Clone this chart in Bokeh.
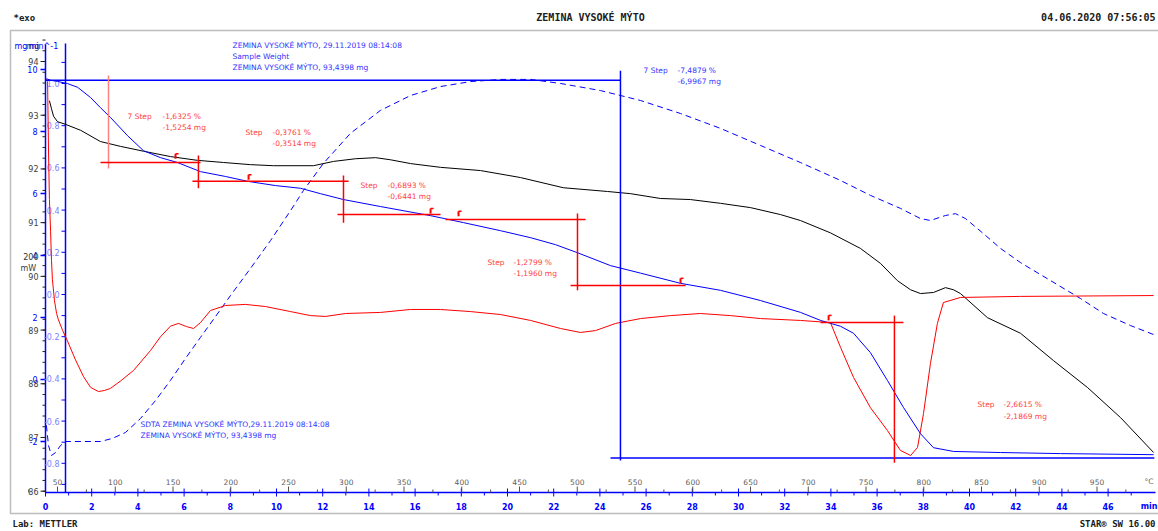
from bokeh.plotting import figure
from bokeh.models import Range1d, Label, PolyAnnotation
from bokeh.embed import file_html
from bokeh.resources import INLINE
from bokeh.core.properties import value

# ---------------- data ----------------
# black curve (mg) vs time (min)
black_t = [0.17, 0.26, 0.35, 0.52, 0.87, 1.52, 2.38, 3.25, 4.24, 5.41, 6.58, 7.71, 8.87, 9.87, 11.60,
           12.47, 13.42, 14.29, 14.94, 15.80, 17.10, 18.83, 20.56, 22.42, 24.33, 25.32, 26.62, 27.92,
           29.22, 30.52, 31.82, 32.68, 33.98, 35.28, 36.15, 36.88, 37.45, 37.88, 38.44, 38.96, 39.31,
           39.61, 40.78, 42.21, 43.64, 45.11, 46.54, 47.97]
black_mg = [93.27, 93.12, 92.98, 92.88, 92.83, 92.72, 92.51, 92.42, 92.33, 92.23, 92.16, 92.12, 92.08,
            92.06, 92.06, 92.14, 92.19, 92.21, 92.17, 92.10, 92.03, 91.97, 91.84, 91.65, 91.58, 91.54,
            91.45, 91.43, 91.36, 91.28, 91.15, 91.04, 90.81, 90.52, 90.24, 89.92, 89.75, 89.68, 89.70,
            89.79, 89.75, 89.68, 89.23, 88.94, 88.43, 87.93, 87.37, 86.72]

# blue solid curve: sample weight (mg)
blue_t = [0.04, 0.22, 0.52, 0.95, 1.39, 1.95, 2.38, 2.81, 3.55, 4.24, 4.98, 5.71, 6.71, 7.79, 8.74,
          9.96, 11.04, 11.90, 12.90, 14.50, 16.67, 18.10, 19.70, 21.00, 22.08, 23.03, 24.46, 25.76,
          27.49, 29.22, 30.95, 32.68, 33.55, 34.42, 34.98, 35.71, 36.45, 37.14, 37.88, 38.44, 39.31,
          41.34, 43.94, 47.97]
blue_mg = [93.68, 93.65, 93.63, 93.59, 93.52, 93.33, 93.14, 92.96, 92.62, 92.34, 92.21, 92.12, 91.95,
           91.86, 91.77, 91.69, 91.64, 91.54, 91.43, 91.30, 91.13, 91.00, 90.85, 90.72, 90.59, 90.44,
           90.20, 90.06, 89.87, 89.74, 89.55, 89.33, 89.18, 89.07, 88.94, 88.58, 88.06, 87.56, 87.07,
           86.81, 86.74, 86.72, 86.70, 86.68]

# red curve: SDTA signal
dsc_t = [0.04, 0.09, 0.13, 0.17, 0.22, 0.26, 0.30, 0.39, 0.48, 0.56, 0.74, 0.95, 1.30, 1.65, 1.95,
         2.29, 2.55, 2.81, 3.25, 3.81, 4.55, 4.98, 5.41, 5.76, 6.10, 6.41, 6.71, 7.14, 7.79, 8.66,
         9.52, 10.61, 11.47, 12.12, 12.99, 14.50, 15.80, 17.10, 18.40, 19.70, 21.00, 22.29, 23.16,
         23.81, 24.68, 25.76, 27.06, 28.35, 29.65, 30.95, 32.68, 33.98, 34.42, 34.98, 35.71, 36.45,
         37.01, 37.45, 37.75, 38.01, 38.31, 38.61, 38.87, 39.61, 42.21, 47.97]
dsc_v = [1.02, 1.01, 0.68, 0.45, 0.30, 0.16, 0.07, -0.03, -0.09, -0.12, -0.17, -0.22, -0.31, -0.39,
         -0.44, -0.46, -0.455, -0.445, -0.41, -0.36, -0.265, -0.20, -0.15, -0.137, -0.152, -0.161,
         -0.133, -0.076, -0.052, -0.047, -0.057, -0.081, -0.100, -0.104, -0.090, -0.085, -0.071,
         -0.071, -0.081, -0.095, -0.123, -0.161, -0.180, -0.171, -0.137, -0.114, -0.100, -0.090,
         -0.100, -0.114, -0.123, -0.133, -0.251, -0.393, -0.536, -0.645, -0.739, -0.763, -0.725,
         -0.564, -0.327, -0.137, -0.038, -0.014, -0.009, -0.005]

# blue dashed curve (DTG)
dtg_t = [0.04, 0.13, 0.26, 0.43, 0.65, 0.87, 2.38, 2.90, 3.46, 4.11, 4.76, 5.41, 6.06, 6.71, 7.36,
         8.01, 8.87, 9.74, 10.61, 11.17, 12.03, 13.20, 14.50, 15.80, 17.10, 18.40, 19.70, 21.00,
         22.29, 24.03, 25.76, 27.49, 29.22, 30.95, 32.68, 34.42, 35.71, 37.01, 37.88, 38.31, 38.96,
         39.39, 39.83, 40.69, 41.34, 42.21, 43.51, 44.81, 45.80, 46.97, 47.97]
dtg_v = [-1.48, -2.13, -2.45, -2.36, -2.13, -2.0, -2.0, -1.90, -1.71, -1.26, -0.68, -0.03, 0.68, 1.36,
         2.03, 2.71, 3.58, 4.48, 5.45, 6.10, 6.97, 7.94, 8.68, 9.16, 9.45, 9.61, 9.68, 9.68, 9.55,
         9.32, 9.0, 8.58, 8.10, 7.55, 7.0, 6.42, 5.94, 5.52, 5.19, 5.13, 5.29, 5.35, 5.19, 4.65, 4.23,
         3.77, 3.19, 2.61, 2.13, 1.74, 1.45]

# tick labels
time_ticks = list(range(0, 48, 2))
temp_ticks = list(range(50, 1000, 50))
mg_ticks = list(range(86, 95))
dtg_ticks = [10, 8, 6, 4, 2, 0, -2]
dsc_ticks = [1.0, 0.8, 0.6, 0.4, 0.2, 0.0, -0.2, -0.4, -0.6, -0.8]

# step evaluations (red): horizontal limits (t0, t1, mg) and vertical limits (t, mg0, mg1)
step_h_t0 = [2.38, 6.36, 12.64, 17.32, 22.73, 33.55]
step_h_t1 = [6.71, 13.12, 17.10, 23.38, 27.71, 37.14]
step_h_mg = [92.12, 91.77, 91.15, 91.06, 89.83, 89.14]
step_v_t = [6.62, 12.90, 23.03, 36.75]
step_v_mg0 = [92.25, 91.88, 91.17, 89.27]
step_v_mg1 = [91.64, 91.00, 89.74, 86.53]
step_mark_t = [5.63, 8.79, 16.67, 17.88, 27.49, 33.90]
step_mark_mg = [92.19, 91.80, 91.17, 91.12, 89.87, 89.18]
step_pct = ["-1,6325 %", "-0,3761 %", "-0,6893 %", "-1,2799 %", "-2,6615 %"]
step_mass = ["-1,5254 mg", "-0,3514 mg", "-0,6441 mg", "-1,1960 mg", "-2,1869 mg"]
step_name = ["7 Step", "Step", "Step", "Step", "Step"]
# overall step (blue)
total_name, total_pct, total_mass = "7 Step", "-7,4879 %", "-6,9967 mg"
total_h_t0 = [0.0, 24.46]
total_h_t1 = [24.89, 48.0]
total_level = [93.65, 86.62]
total_v_t, total_v_mg = 24.89, [93.83, 86.57]

# ---------------- page calibration (pixels) ----------------
W, H = 1158, 531
X0, PX_MIN = 45.0, 23.1          # time 0 at x=45, px per minute
MG0_Y, PX_MG = 490.7, 53.71      # 86 mg at y=490.7, px per mg
DSC0_Y, PX_DSC = 294.0, 211.0    # 0 at y=294
DTG0_Y, PX_DTG = 379.0, 31.0     # 0 at y=379


def tx(X):
    return (X - X0) / PX_MIN


def my(Y):
    return 86 + (MG0_Y - Y) / PX_MG


BLUE = "#0000ff"
RED = "#ff0000"
FONT = "DejaVu Sans"
MONO = "DejaVu Sans Mono"

p = figure(width=W, height=H, x_range=Range1d(tx(0), tx(W)), y_range=Range1d(my(H), my(0)),
           output_backend="svg", toolbar_location=None, x_axis_location=None, y_axis_location=None,
           min_border=0, min_border_left=0, min_border_right=0, min_border_top=0, min_border_bottom=0)
p.extra_y_ranges = {"dsc": Range1d((DSC0_Y - H) / PX_DSC, DSC0_Y / PX_DSC),
                    "dtg": Range1d((DTG0_Y - H) / PX_DTG, DTG0_Y / PX_DTG)}
p.grid.visible = False
p.outline_line_color = None
p.background_fill_color = "white"
p.border_fill_color = "white"


def seg(x0, y0, x1, y1, color, width=1.0, rng="default"):
    p.segment(x0=x0, y0=y0, x1=x1, y1=y1, line_color=color, line_width=width, y_range_name=rng)


def txt(x, y, text, color, size="8px", align="left", bold=False, font=FONT, rng="default"):
    p.text(x=x, y=y, text=text, text_color=color, text_font_size=size, text_align=align,
           text_baseline="middle", text_font=value(font),
           text_font_style="bold" if bold else "normal", y_range_name=rng)


# outer frame
p.add_layout(PolyAnnotation(xs=[10, 1175, 1175, 10], ys=[H - 30, H - 30, H - 513, H - 513],
                            xs_units="screen", ys_units="screen", fill_alpha=0,
                            line_color="#202020", line_width=1.5))

# ---- time axis (bottom) ----
y_axis_line = my(492)
seg([0], [y_axis_line], [tx(1155)], [y_axis_line], BLUE, 1.5)
seg(time_ticks, [my(488)] * len(time_ticks), time_ticks, [my(496)] * len(time_ticks), BLUE, 1)
odd = list(range(1, 48, 2))
seg(odd, [my(492)] * len(odd), odd, [my(495)] * len(odd), BLUE, 1)
txt(time_ticks, [my(506)] * len(time_ticks), [str(t) for t in time_ticks], BLUE, "8px",
    "center", True)
txt([tx(1157)], [my(506)], ["min"], BLUE, "8px", "right", True)

# temperature scale (20 K/min)
temp_t = [(T - 39.6) / 20.0 for T in temp_ticks]
temp_minor_t = [(T - 39.6) / 20.0 for T in range(25, 1000, 50)]
seg(temp_t, [my(492)] * len(temp_t), temp_t, [my(486)] * len(temp_t), "#505050", 1)
seg(temp_minor_t, [my(492)] * len(temp_minor_t), temp_minor_t, [my(489)] * len(temp_minor_t),
    "#505050", 1)
txt(temp_t, [my(481)] * len(temp_t), [str(T) for T in temp_ticks], "#606060", "7.5px", "center")
txt([tx(1144)], [my(481)], ["°C"], "#606060", "7.5px")

# ---- left mg axis ----
seg([0], [my(44)], [0], [y_axis_line], BLUE, 1.5)
seg([tx(40)] * len(mg_ticks), mg_ticks, [0] * len(mg_ticks), mg_ticks, "#202020", 1)
mg_minor = [86 + 0.2 * i for i in range(43)]
seg([tx(42)] * len(mg_minor), mg_minor, [0] * len(mg_minor), mg_minor, "#202020", 1)
txt([tx(38)] * len(mg_ticks), mg_ticks, [str(m) for m in mg_ticks], "#404040", "8px", "right")
# blue DTG scale on the same edge
seg([tx(40)] * len(dtg_ticks), dtg_ticks, [0] * len(dtg_ticks), dtg_ticks, BLUE, 1.5, "dtg")
txt([tx(37)] * len(dtg_ticks), dtg_ticks, [str(v) for v in dtg_ticks], BLUE, "8px", "right",
    rng="dtg")

# ---- inner axis for the red signal ----
inner_t = tx(65)
seg([inner_t], [(DSC0_Y - 492) / PX_DSC], [inner_t], [(DSC0_Y - 43) / PX_DSC], BLUE, 1.5, "dsc")
minor_dsc = [round(-0.9 + 0.1 * i, 2) for i in range(21)]
seg([tx(61)] * len(minor_dsc), minor_dsc, [inner_t] * len(minor_dsc), minor_dsc, BLUE, 1, "dsc")
txt([tx(59)] * len(dsc_ticks), dsc_ticks, ["%.1f" % v for v in dsc_ticks], "#8080ff", "8px",
    "right", rng="dsc")

# ---- curves ----
p.line(dtg_t, dtg_v, y_range_name="dtg", line_color=BLUE, line_width=1, line_dash="6 4")
p.line(black_t, black_mg, line_color="black", line_width=1)
p.line(dsc_t, dsc_v, y_range_name="dsc", line_color=RED, line_width=1)
p.line(blue_t, blue_mg, line_color=BLUE, line_width=1)

# ---- overall step (blue) ----
seg(total_h_t0, total_level, total_h_t1, total_level, BLUE, 1.5)
seg([total_v_t], [total_v_mg[0]], [total_v_t], [total_v_mg[1]], BLUE, 1.5)

# ---- step limits (red) ----
seg([tx(108)], [my(75)], [tx(108)], [my(168)], "#ff8080", 1.5)
seg(step_h_t0, step_h_mg, step_h_t1, step_h_mg, RED, 1.5)
seg(step_v_t, step_v_mg0, step_v_t, step_v_mg1, RED, 1.5)
mark_top = [m + 5 / PX_MG for m in step_mark_mg]
seg(step_mark_t, step_mark_mg, step_mark_t, mark_top, RED, 2)
seg(step_mark_t, mark_top, [t + 3 / PX_MIN for t in step_mark_t], mark_top, RED, 1.5)

# ---------------- texts ----------------
def lab(X, Y, text, color, size="8px", bold=False, align="left", font=FONT):
    p.add_layout(Label(x=X, y=H - Y, x_units="screen", y_units="screen", text=text,
                       text_color=color, text_font_size=size, text_font=font,
                       text_font_style="bold" if bold else "normal", text_align=align,
                       text_baseline="middle"))


# header / footer
lab(13, 17, "*exo", "#202020", size="9px", bold=True, font=MONO)
lab(590, 17, "ZEMINA VYSOKÉ MÝTO", "#202020", size="10px", bold=True, align="center", font=MONO)
lab(1155, 17, "04.06.2020 07:56:05", "#202020", size="10px", bold=True, align="right", font=MONO)
lab(12, 523, "Lab: METTLER", "#202020", size="9px", bold=True, font=MONO)
lab(1155, 523, "STAR® SW 16.00", "#202020", size="9px", bold=True, align="right", font=MONO)

# unit labels at the left
lab(14, 46, "mg", BLUE)
lab(26, 46, "mg", "#303030")
lab(28, 46, "min^-1", BLUE)
lab(38, 256, "200", "#303030", align="right")
lab(20, 268, "mW", "#404040")

# curve descriptions
lab(232, 45, "ZEMINA VYSOKÉ MÝTO, 29.11.2019 08:14:08", "#3333ff", size="7.5px")
lab(232, 56, "Sample Weight", "#3333ff", size="7.5px")
lab(232, 67, "ZEMINA VYSOKÉ MÝTO, 93,4398 mg", "#3333ff", size="7.5px")
lab(140, 424, "SDTA ZEMINA VYSOKÉ MÝTO,29.11.2019 08:14:08", "#3333ff", size="7.5px")
lab(140, 435, "ZEMINA VYSOKÉ MÝTO, 93,4398 mg", "#3333ff", size="7.5px")

# step results
step_pos = [(127, 162, 116, 127), (245, 272, 132, 143), (360, 387, 185, 196),
            (487, 513, 262, 273), (977, 1003, 404, 416)]
for (xn, xv, y1, y2), nm, pc, ms in zip(step_pos, step_name, step_pct, step_mass):
    lab(xn, y1, nm, "#ff4040", size="7.5px")
    lab(xv, y1, pc, "#ff4040", size="7.5px")
    lab(xv, y2, ms, "#ff4040", size="7.5px")
lab(643, 70, total_name, "#3333ff", size="7.5px")
lab(677, 70, total_pct, "#3333ff", size="7.5px")
lab(677, 81, total_mass, "#3333ff", size="7.5px")

open("out.html", "w").write(file_html(p, INLINE))
